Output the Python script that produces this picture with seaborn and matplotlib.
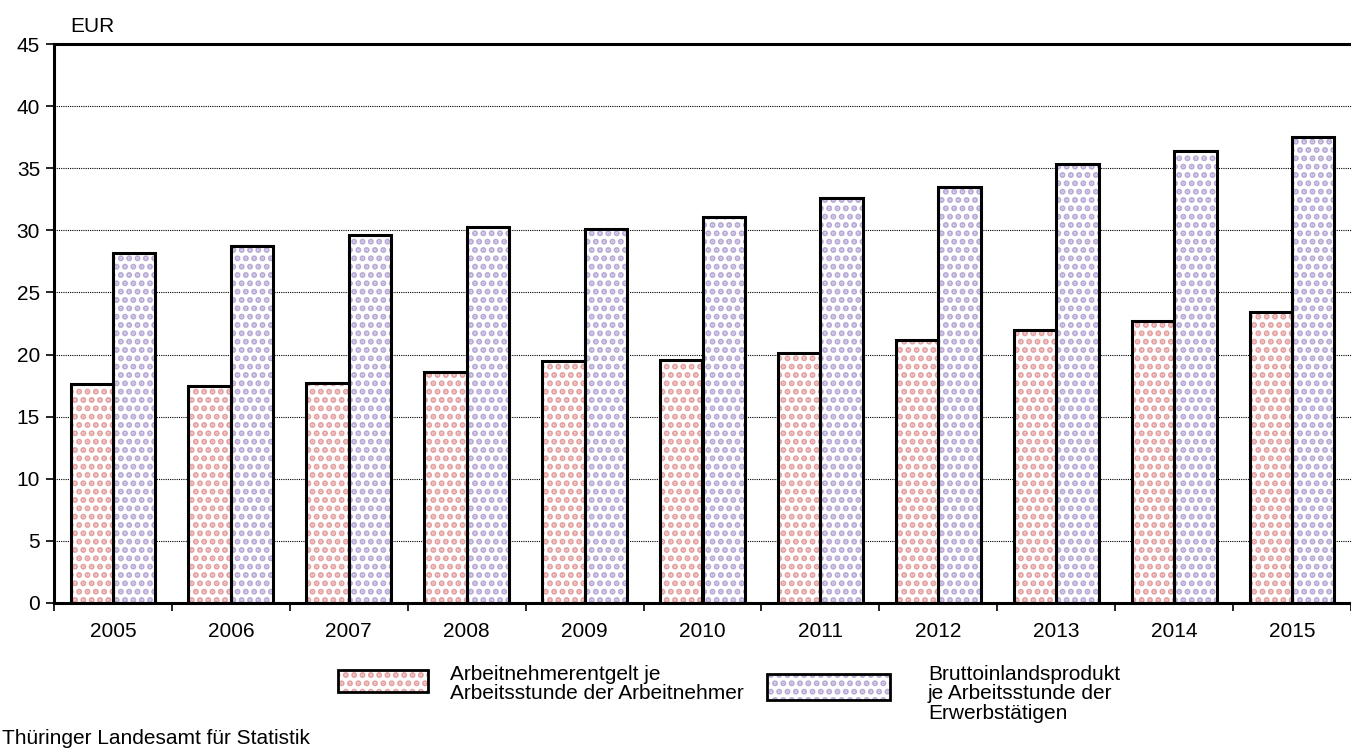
import matplotlib
matplotlib.use("Agg")
import matplotlib.pyplot as plt
import seaborn as sns
import pandas as pd
from matplotlib.patches import Rectangle

years = ["2005", "2006", "2007", "2008", "2009", "2010", "2011", "2012", "2013", "2014", "2015"]
arbeitnehmerentgelt = [17.6, 17.5, 17.7, 18.6, 19.5, 19.6, 20.1, 21.2, 22.0, 22.7, 23.4]
bip = [28.2, 28.7, 29.6, 30.3, 30.1, 31.1, 32.6, 33.5, 35.3, 36.4, 37.5]
series_names = ["Arbeitnehmerentgelt je\nArbeitsstunde der Arbeitnehmer",
                "Bruttoinlandsprodukt\nje Arbeitsstunde der\nErwerbstätigen"]
y_ticks = [0, 5, 10, 15, 20, 25, 30, 35, 40, 45]

dot_colors = ["#e4a0a0", "#b8a8d6"]

df = pd.DataFrame({
    "year": years * 2,
    "value": arbeitnehmerentgelt + bip,
    "series": [series_names[0]] * len(years) + [series_names[1]] * len(years),
})

sns.set_style("white")
plt.rcParams["font.family"] = ["Liberation Sans", "DejaVu Sans"]
plt.rcParams["text.color"] = "black"
plt.rcParams["hatch.linewidth"] = 3.0

fig = plt.figure(figsize=(13.51, 7.53), dpi=100)
ax = fig.add_axes([54 / 1351, 1 - 603 / 753, 1297 / 1351, (603 - 44) / 753])

# hatched fill
sns.barplot(data=df, x="year", y="value", hue="series", order=years,
            hue_order=series_names, palette=["white", "white"], width=0.72,
            linewidth=0, ax=ax, legend=False, errorbar=None)
for cont, col in zip(ax.containers, dot_colors):
    for p in cont:
        p.set_hatch("..")
        p.set_edgecolor(col)
        p.set_linewidth(0)
# black outlines
sns.barplot(data=df, x="year", y="value", hue="series", order=years,
            hue_order=series_names, palette=["black", "black"], width=0.72,
            fill=False, linewidth=2.2, ax=ax, legend=False, errorbar=None)

ax.set_ylim(0, 45)
ax.set_xlim(-0.5, len(years) - 0.5)
ax.set_yticks(y_ticks)
ax.yaxis.grid(True, color="black", linestyle=(0, (1, 1)), linewidth=0.8)
ax.set_axisbelow(True)
ax.set_xlabel("")
ax.set_ylabel("")

for s in ["left", "bottom", "top"]:
    ax.spines[s].set_visible(True)
    ax.spines[s].set_color("black")
    ax.spines[s].set_linewidth(2.2)
ax.spines["right"].set_visible(False)

ax.tick_params(axis="y", which="major", length=6, width=1.2, color="black",
               labelsize=15, labelcolor="black", left=True, pad=4)
ax.tick_params(axis="x", which="major", length=0, labelsize=15,
               labelcolor="black", pad=14)
ax.set_xticks([i + 0.5 for i in range(-1, len(years))], minor=True)
ax.tick_params(axis="x", which="minor", length=6, width=1.2, color="black",
               bottom=True)

fig.text(70 / 1351, 1 - 27 / 753, "EUR", fontsize=15, va="center", ha="left")

# legend
leg = [
    (338, 670, 90, 22, 450, 665),
    (767, 674, 123, 26, 928, 665),
]
for (x, y, w, h, tx, ty), col, name in zip(leg, dot_colors, series_names):
    r = Rectangle((x / 1351, 1 - (y + h) / 753), w / 1351, h / 753,
                  transform=fig.transFigure, facecolor="white", edgecolor=col,
                  hatch="..", linewidth=0)
    fig.patches.append(r)
    r2 = Rectangle((x / 1351, 1 - (y + h) / 753), w / 1351, h / 753,
                   transform=fig.transFigure, fill=False, edgecolor="black",
                   linewidth=2)
    fig.patches.append(r2)
    fig.text(tx / 1351, 1 - ty / 753, name, fontsize=15, va="top", ha="left",
             linespacing=1.02)

fig.text(2 / 1351, 1 - 738 / 753, "Thüringer Landesamt für Statistik",
         fontsize=15, va="center", ha="left")

fig.savefig("out.png", dpi=100)
